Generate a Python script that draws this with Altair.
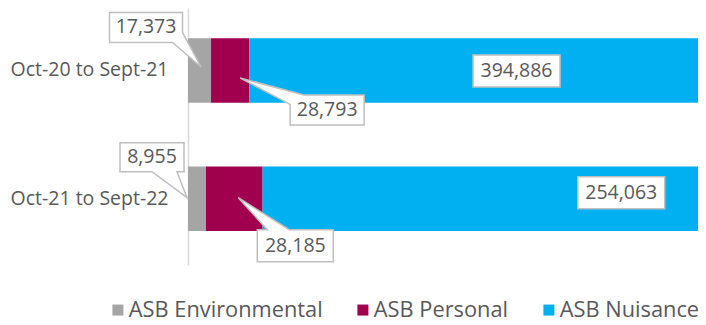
import altair as alt
import pandas as pd

# ---- data ----
categories = ["Oct-20 to Sept-21", "Oct-21 to Sept-22"]
series = ["ASB Environmental", "ASB Personal", "ASB Nuisance"]
environmental = [17373, 8955]
personal = [28793, 28185]
nuisance = [394886, 254063]
colors = ["#A5A5A5", "#A0004E", "#00B0F0"]

values = {"ASB Environmental": environmental, "ASB Personal": personal, "ASB Nuisance": nuisance}

rows = []
for ci, cat in enumerate(categories):
    total = sum(values[s][ci] for s in series)
    cum = 0.0
    for si, s in enumerate(series):
        v = values[s][ci]
        frac = v / total
        rows.append({"category": cat, "series": s, "value": v, "order": si,
                     "mid": cum + frac / 2})
        cum += frac
df = pd.DataFrame(rows)

# callout geometry (pixel offsets from the segment centre): box path, text offset
callouts = {
    (0, "ASB Environmental"): ("M-90,-58H-17V-38L1.5,-3.5L-27,-28H-90Z", -53.5, -43),
    (0, "ASB Personal"): ("M74,24.5H134V54.5H60V34L10,7.5Z", 97, 39.5),
    (0, "ASB Nuisance"): ("M-38,-15.5H49V16.5H-38Z", 5.5, 0.5),
    (1, "ASB Environmental"): ("M-77,-56H-13V-27H-20L-10,-1L-45,-27H-77Z", -45, -41.5),
    (1, "ASB Personal"): ("M23,31H33L4,-1L55,31H99V63H23Z", 61, 47),
    (1, "ASB Nuisance"): ("M60,-22H147V10H60Z", 103.5, -6),
}

FONT = "Open Sans"
xscale = alt.Scale(domain=[0, 0.872], nice=False, zero=True)
yenc = alt.Y("category:N", sort=categories,
             scale=alt.Scale(paddingInner=0.496, paddingOuter=0.25, align=0.47),
             axis=alt.Axis(title=None, ticks=False, labelPadding=20, labelFontSize=19.5,
                           labelFont=FONT, labelColor="#595959", domainColor="#D9D9D9",
                           domainWidth=1.5, grid=False))

bars = alt.Chart(df).mark_bar(clip=True, cornerRadius=0).encode(
    x=alt.X("value:Q", stack="normalize", scale=xscale, axis=None),
    y=yenc,
    color=alt.Color("series:N", sort=series,
                    scale=alt.Scale(domain=series, range=colors),
                    legend=alt.Legend(title=None, orient="none", direction="horizontal",
                                      legendX=-81, legendY=291, symbolType="square",
                                      symbolSize=121, symbolStrokeWidth=0,
                                      labelFontSize=21.8, labelFont=FONT,
                                      labelColor="#595959", labelOffset=0,
                                      labelLimit=400,
                                      columnPadding=29, padding=0)),
    order=alt.Order("order:Q"),
)

layers = [bars]
for (ci, s), (path, tx, ty) in callouts.items():
    sub = df[(df["category"] == categories[ci]) & (df["series"] == s)]
    box = alt.Chart(sub).mark_point(shape=path, size=4, filled=True, fill="white",
                                    stroke="#BFBFBF", strokeWidth=1.5, opacity=1).encode(
        x=alt.X("mid:Q", scale=xscale, axis=None), y=yenc)
    txt = alt.Chart(sub).mark_text(dx=tx, dy=ty, fontSize=19.5, font=FONT, color="#595959",
                                   align="center", baseline="middle").encode(
        x=alt.X("mid:Q", scale=xscale, axis=None), y=yenc,
        text=alt.Text("value:Q", format=","))
    layers += [box, txt]

chart = alt.layer(*layers).properties(
    width=510, height=257,
    autosize=alt.AutoSizeParams(type="none"),
    padding={"left": 180, "top": 0, "right": 0, "bottom": 60},
).configure_view(stroke=None)

chart.save("out.html", embed_options={"renderer": "svg", "actions": False})
